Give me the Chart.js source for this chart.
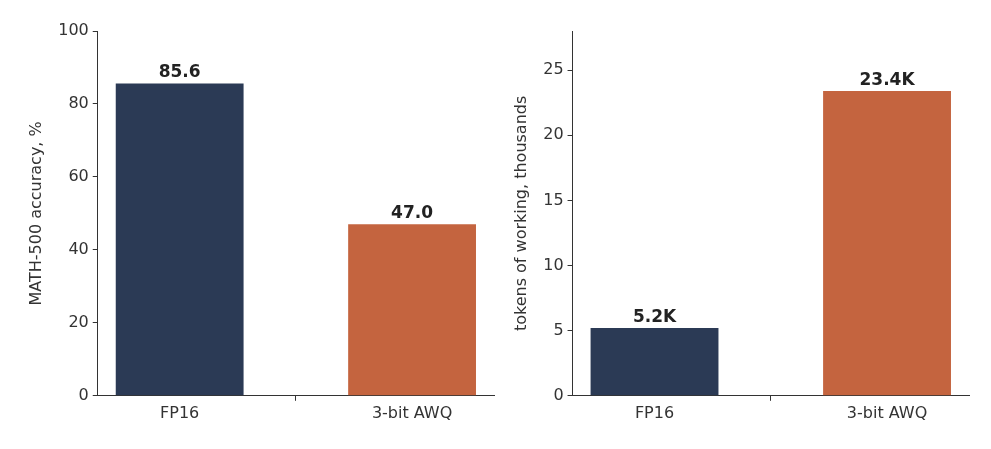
<!DOCTYPE html>
<html><head><meta charset="utf-8">
<script src="https://cdn.jsdelivr.net/npm/chart.js@4/dist/chart.umd.min.js"></script>
<style>
body{margin:0;background:#fff;width:991px;height:449px;overflow:hidden;position:relative}
.box{position:absolute;top:0;height:449px}
</style></head><body>
<div class="box" style="left:0;width:500px"><canvas id="cAcc"></canvas></div>
<div class="box" style="left:500px;width:491px"><canvas id="cTok"></canvas></div>
<script>
const categories = ["FP16", "3-bit AWQ"];
const accuracy = [85.6, 47.0];
const tokensK = [5.2, 23.4];
const accTicks = [0, 20, 40, 60, 80, 100];
const tokTicks = [0, 5, 10, 15, 20, 25];
const colors = ["#2b3a55", "#c4643f"];

Chart.defaults.font.family = "DejaVu Sans";
Chart.defaults.color = "#333";

const valueLabels = {
  id: "valueLabels",
  afterDatasetsDraw(chart, args, opts){
    const ctx = chart.ctx;
    const meta = chart.getDatasetMeta(0);
    ctx.save();
    ctx.font = "bold 17px DejaVu Sans";
    ctx.fillStyle = "#222";
    ctx.textAlign = "center";
    ctx.textBaseline = "bottom";
    meta.data.forEach((bar, i) => {
      ctx.fillText(opts.fmt(chart.data.datasets[0].data[i].y), bar.x, bar.y - 2);
    });
    ctx.restore();
  }
};

function build(id, values, ticks, max, title, fmt, pad){
  const data = values.map((v, i) => ({ x: i, y: v }));
  return new Chart(document.getElementById(id), {
    type: "bar",
    data: { datasets: [{ data, backgroundColor: colors, barPercentage: 0.55, categoryPercentage: 1 }] },
    options: {
      responsive: true, maintainAspectRatio: false, animation: false,
      layout: { padding: pad },
      plugins: { legend: { display: false }, tooltip: { enabled: false }, valueLabels: { fmt } },
      scales: {
        x: {
          type: "linear", min: -0.3525, max: 1.3525, offset: false,
          afterBuildTicks: ax => { ax.ticks = categories.map((c, i) => ({ value: i })); },
          grid: { drawOnChartArea: false, tickLength: 5, color: "#333" },
          border: { color: "#333" },
          ticks: { font: { size: 16 }, padding: 3, callback: v => categories[v] }
        },
        y: {
          min: 0, max,
          afterBuildTicks: ax => { ax.ticks = ticks.map(v => ({ value: v })); },
          grid: { drawOnChartArea: false, tickLength: 5, color: "#333" },
          border: { color: "#333" },
          ticks: { font: { size: 16 }, padding: 4 },
          title: { display: true, text: title, font: { size: 16 }, padding: { bottom: 8 } }
        }
      }
    },
    plugins: [valueLabels]
  });
}

build("cAcc", accuracy, accTicks, 100, "MATH-500 accuracy, %", v => v.toFixed(1), { left: 23, right: 6, top: 31, bottom: 23 });
build("cTok", tokensK, tokTicks, 28, "tokens of working, thousands", v => v.toFixed(1) + "K", { left: 8, right: 22, top: 31, bottom: 23 });
</script>
</body></html>
